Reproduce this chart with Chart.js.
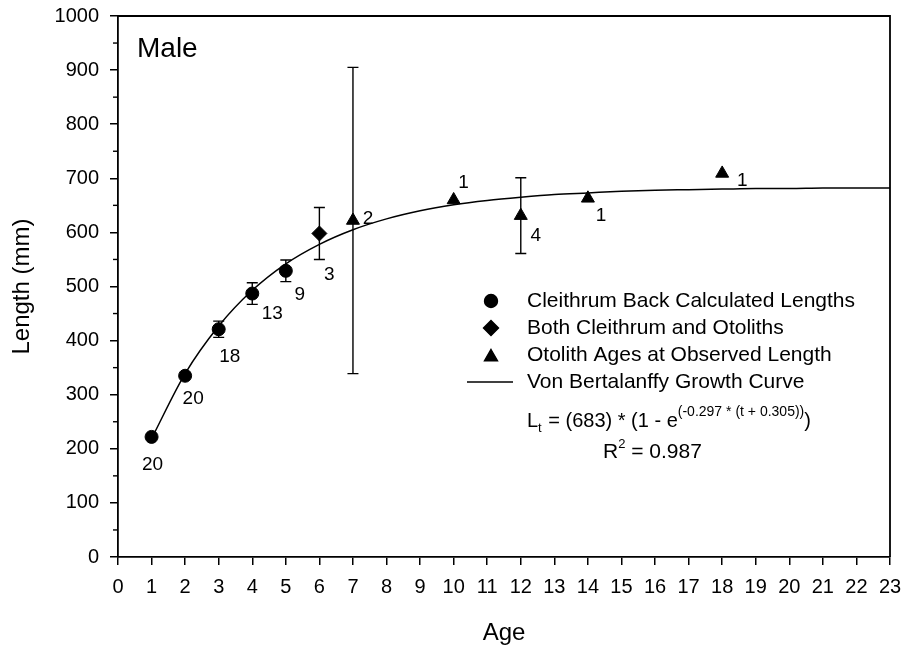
<!DOCTYPE html>
<html>
<head>
<meta charset="utf-8">
<script src="https://cdn.jsdelivr.net/npm/chart.js@4.4.0/dist/chart.umd.min.js"></script>
<style>
  html, body { margin: 0; padding: 0; background: #fff; }
</style>
</head>
<body>
<canvas id="growthChart" width="905" height="648"></canvas>
<script>
// Data
const cleithrumAge = [1, 2, 3, 4, 5];
const cleithrumLength = [222, 335, 421, 487, 529];
const cleithrumErr = [0, 0, 15, 20, 20];
const cleithrumN = [20, 20, 18, 13, 9];

const bothAge = [6];
const bothLength = [598];
const bothErr = [48];
const bothN = [3];

const otolithAge = [7, 10, 12, 14, 18];
const otolithLength = [622, 660, 631, 663, 709];
const otolithErr = [283, 0, 70, 0, 0];
const otolithN = [2, 1, 4, 1, 1];

// Von Bertalanffy curve as drawn (read at each age)
const curveAge = [1, 2, 3, 4, 5, 6, 7, 8, 9, 10, 11, 12, 13, 14, 15, 16, 17, 18, 19, 20, 21, 22, 23];
const curveLength = [219, 339, 427, 493, 542, 578, 605, 625, 640, 651, 659, 665, 670, 673, 676, 678, 679, 680, 681, 681, 682, 682, 682];

const xTicks = [0, 23, 1];      // min, max, step
const yTicks = [0, 1000, 100];  // min, max, step

// label offsets (px) for the sample counts, in point order
const countOffsets = [[1, 28], [8, 23], [11, 28], [20, 20], [14, 24], [10, 41], [15, -2], [10, -17], [15, 20], [13, 17], [20, 7]];

const FONT = '"Liberation Sans", Arial, Helvetica, sans-serif';

function pts(xs, ys) {
    return xs.map((v, i) => ({ x: v, y: ys[i] }));
}

const groups = [
    { age: cleithrumAge, len: cleithrumLength, err: cleithrumErr, n: cleithrumN },
    { age: bothAge, len: bothLength, err: bothErr, n: bothN },
    { age: otolithAge, len: otolithLength, err: otolithErr, n: otolithN }
];

const overlay = {
    id: 'overlay',
    beforeDatasetsDraw(chart) {
        const { ctx, scales: { x, y } } = chart;
        ctx.save();
        ctx.strokeStyle = '#000';
        ctx.lineWidth = 1.4;
        groups.forEach(g => {
            g.age.forEach((a, i) => {
                const e = g.err[i];
                if (!e) return;
                const px = x.getPixelForValue(a);
                const top = y.getPixelForValue(g.len[i] + e);
                const bot = y.getPixelForValue(g.len[i] - e);
                ctx.beginPath();
                ctx.moveTo(px, top); ctx.lineTo(px, bot);
                ctx.moveTo(px - 5.5, top); ctx.lineTo(px + 5.5, top);
                ctx.moveTo(px - 5.5, bot); ctx.lineTo(px + 5.5, bot);
                ctx.stroke();
            });
        });
        ctx.restore();
    },
    afterDraw(chart) {
        const { ctx, chartArea: ca, scales: { x, y } } = chart;
        ctx.save();
        ctx.strokeStyle = '#000';
        ctx.fillStyle = '#000';
        ctx.lineWidth = 1.8;

        // frame top and right
        ctx.beginPath();
        ctx.moveTo(ca.left, ca.top); ctx.lineTo(ca.right, ca.top); ctx.lineTo(ca.right, ca.bottom);
        ctx.stroke();

        // minor y ticks
        ctx.lineWidth = 1.4;
        for (let v = yTicks[0] + yTicks[2] / 2; v < yTicks[1]; v += yTicks[2]) {
            const py = y.getPixelForValue(v);
            ctx.beginPath();
            ctx.moveTo(ca.left - 5, py); ctx.lineTo(ca.left, py);
            ctx.stroke();
        }

        // sample counts
        ctx.font = '19px ' + FONT;
        ctx.textAlign = 'center';
        ctx.textBaseline = 'middle';
        let k = 0;
        groups.forEach(g => {
            g.age.forEach((a, i) => {
                const off = countOffsets[k++];
                ctx.fillText(String(g.n[i]), x.getPixelForValue(a) + off[0], y.getPixelForValue(g.len[i]) + off[1]);
            });
        });

        // panel label
        ctx.font = '28px ' + FONT;
        ctx.textAlign = 'left';
        ctx.fillText('Male', 137, 49);

        // legend
        const H = Chart.helpers;
        const mx = 491, tx = 527;
        const rows = [301, 328, 355, 382];
        const names = ['Cleithrum Back Calculated Lengths', 'Both Cleithrum and Otoliths',
            'Otolith Ages at Observed Length', 'Von Bertalanffy Growth Curve'];
        const styles = [['circle', 6.5], ['rectRot', 7.5], ['triangle', 7.5]];
        styles.forEach((s, i) => {
            H.drawPoint(ctx, { pointStyle: s[0], radius: s[1], borderWidth: 1, rotation: 0 },
                mx, rows[i] + (s[0] === 'triangle' ? 2 : 0));
            ctx.fill();
        });
        ctx.lineWidth = 1.5;
        ctx.beginPath();
        ctx.moveTo(467, rows[3]); ctx.lineTo(513, rows[3]);
        ctx.stroke();
        ctx.font = '21px ' + FONT;
        names.forEach((t, i) => ctx.fillText(t, tx, rows[i]));

        // equation
        let ex = tx;
        const ey = 421;
        ctx.font = '20px ' + FONT;
        ctx.fillText('L', ex, ey); ex += ctx.measureText('L').width;
        ctx.font = '13px ' + FONT;
        ctx.fillText('t', ex, ey + 7); ex += ctx.measureText('t').width + 1;
        ctx.font = '20px ' + FONT;
        let s = ' = (683) * (1 - e';
        ctx.fillText(s, ex, ey); ex += ctx.measureText(s).width;
        ctx.font = '14px ' + FONT;
        s = '(-0.297 * (t + 0.305))';
        ctx.fillText(s, ex, ey - 9); ex += ctx.measureText(s).width;
        ctx.font = '20px ' + FONT;
        ctx.fillText(')', ex, ey);

        let rx = 603;
        ctx.font = '21px ' + FONT;
        ctx.fillText('R', rx, 452); rx += ctx.measureText('R').width;
        ctx.font = '13px ' + FONT;
        ctx.fillText('2', rx, 444); rx += ctx.measureText('2').width;
        ctx.font = '21px ' + FONT;
        ctx.fillText(' = 0.987', rx, 452);

        ctx.restore();
    }
};

const ctx = document.getElementById('growthChart').getContext('2d');
const growthChart = new Chart(ctx, {
    type: 'scatter',
    data: {
        datasets: [
            {
                label: 'Von Bertalanffy Growth Curve',
                data: pts(curveAge, curveLength),
                showLine: true,
                borderColor: '#000',
                borderWidth: 1.5,
                pointRadius: 0,
                cubicInterpolationMode: 'monotone'
            },
            {
                label: 'Cleithrum Back Calculated Lengths',
                data: pts(cleithrumAge, cleithrumLength),
                pointStyle: 'circle',
                pointRadius: 6.5,
                backgroundColor: '#000',
                borderColor: '#000'
            },
            {
                label: 'Both Cleithrum and Otoliths',
                data: pts(bothAge, bothLength),
                pointStyle: 'rectRot',
                pointRadius: 7.5,
                backgroundColor: '#000',
                borderColor: '#000'
            },
            {
                label: 'Otolith Ages at Observed Length',
                data: pts(otolithAge, otolithLength),
                pointStyle: 'triangle',
                pointRadius: 7.5,
                backgroundColor: '#000',
                borderColor: '#000'
            }
        ]
    },
    options: {
        responsive: false,
        animation: false,
        events: [],
        layout: { padding: { top: 16, right: 15, left: 0, bottom: 0 } },
        plugins: {
            legend: { display: false },
            tooltip: { enabled: false }
        },
        scales: {
            x: {
                type: 'linear',
                min: xTicks[0],
                max: xTicks[1],
                afterFit(scale) {
                    scale.height = 91;
                    scale.paddingLeft = 0;
                    scale.paddingRight = 0;
                },
                ticks: { stepSize: xTicks[2], color: '#000', font: { family: FONT, size: 20 }, padding: 10, maxRotation: 0, autoSkip: false },
                grid: { drawOnChartArea: false, color: '#000', tickLength: 8, lineWidth: 1.5 },
                border: { color: '#000', width: 1.8 },
                title: { display: true, text: 'Age', color: '#000', font: { family: FONT, size: 24 }, padding: { top: 0, bottom: 0 } }
            },
            y: {
                type: 'linear',
                min: yTicks[0],
                max: yTicks[1],
                afterFit(scale) {
                    scale.width = 118;
                    scale.paddingTop = 0;
                    scale.paddingBottom = 0;
                },
                ticks: {
                    stepSize: yTicks[2], color: '#000', font: { family: FONT, size: 20 }, padding: 11,
                    callback: v => String(v)
                },
                grid: { drawOnChartArea: false, color: '#000', tickLength: 8, lineWidth: 1.5 },
                border: { color: '#000', width: 1.8 },
                title: { display: true, text: 'Length (mm)', color: '#000', font: { family: FONT, size: 24 }, padding: { top: 8, bottom: 0 } }
            }
        }
    },
    plugins: [overlay]
});
</script>
</body>
</html>
